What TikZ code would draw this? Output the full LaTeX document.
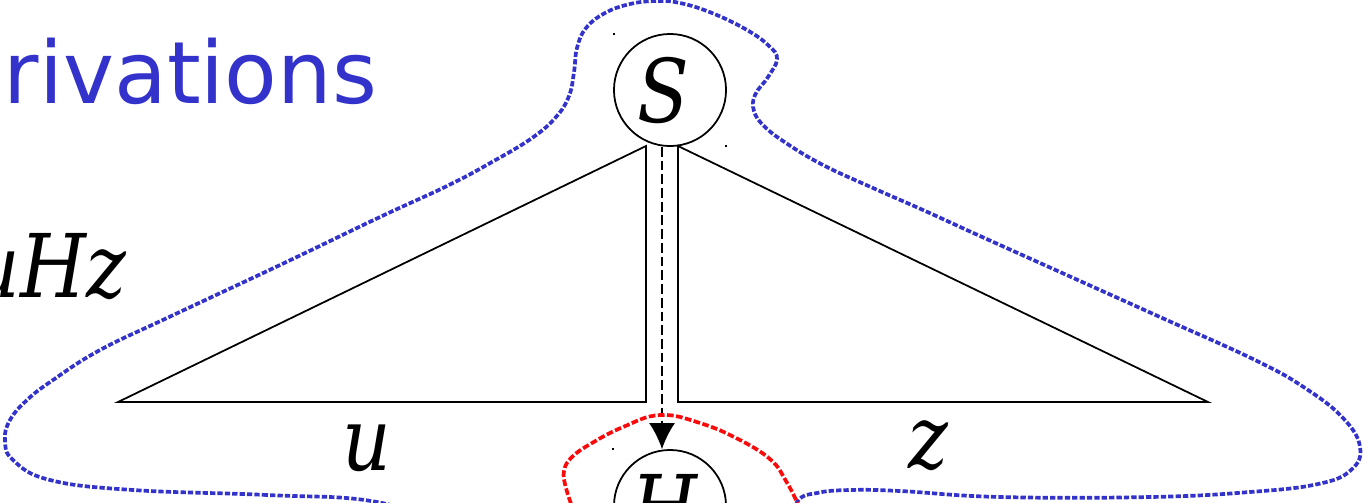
\documentclass[tikz,border=0pt]{standalone}
\usepackage{fontspec}
\setmainfont{DejaVu Serif}
\newfontfamily\titlefont{DejaVu Sans}
\newfontfamily\lblfont[FakeStretch=0.86]{DejaVu Serif}
\usetikzlibrary{arrows.meta}
\definecolor{loopblue}{RGB}{51,51,204}
\definecolor{loopred}{RGB}{250,10,10}
\tikzset{
  lbl/.style={font=\lblfont\fontsize{25}{30}\selectfont\itshape, inner sep=0pt},
  vertex/.style={circle, draw, line width=0.5pt, minimum size=1.12cm, inner sep=0pt,
                 font=\lblfont\fontsize{25}{30}\selectfont\itshape},
  blueloop/.style={loopblue, line width=1.05pt, dash pattern=on 1.5pt off 0.6pt},
  redloop/.style={loopred, line width=1.05pt, dash pattern=on 1.9pt off 0.7pt},
}
\begin{document}
\begin{tikzpicture}[x=0.01cm, y=-0.01cm, >={Latex[length=7.4pt,width=7.4pt]}, line width=0.5pt]
\useasboundingbox (0,0) rectangle (1364,502);
\coordinate (L1) at (646,146);
\coordinate (L2) at (118,402);
\coordinate (L3) at (646,402);
\coordinate (R1) at (678,146);
\coordinate (R2) at (678,402);
\coordinate (R3) at (1208,402);
\node[vertex] (S) at (670,90)  {S\kern4pt};
\node[vertex] (H) at (670,506) {H\kern3pt};
\draw (L1) -- (L3) -- (L2) -- cycle;
\draw (R1) -- (R2) -- (R3) -- cycle;
\draw[->, dash pattern=on 2.8pt off 1.1pt] ([xshift=-0.08cm]S.south) -- ([xshift=-0.08cm]H.north);
% the two loops
\draw[blueloop] plot[smooth cycle, tension=0.7] coordinates {
  (377,502) (267,495) (133,490) (50,480) (13,460) (5,440) (10,420) (27,400)
  (53,380) (100,350) (167,318) (280,265) (380,217) (447,186) (492,162)
  (532,138) (556,117) (569,96) (574,72) (577,48) (586,28) (605,13) (630,4)
  (656,1) (680,3) (712,13) (747,30) (769,46) (777,59) (768,77) (755,95)
  (754,111) (764,126) (786,143) (823,165) (873,188) (923,210) (980,236)
  (1060,272) (1160,317) (1255,360) (1305,388) (1343,418) (1360,447)
  (1351,470) (1318,484) (1250,492) (1150,497) (1000,497) (900,491)
  (850,490) (817,493) (797,502) (780,540) (600,560) (460,530)};
\draw[redloop] plot[smooth, tension=0.7] coordinates {
  (574,512) (566,488) (564,471) (572,457) (592,443) (623,427) (660,415)
  (700,423) (740,440) (771,460) (786,481) (797,502) (801,512)};
\node[lbl, anchor=base] (u) at (367,470) {u};
\node[lbl, anchor=base] (z) at (928,468) {z};
\node[lbl, anchor=base east] (uhz) at (127,297) {uHz};
\node[anchor=base west, inner sep=0pt, text=loopblue,
      font=\titlefont\fontsize{24.5}{29}\selectfont] (title) at (3,103) {rivations};
\fill (613,33) rectangle +(2,2);
\fill (725,145) rectangle +(2,2);
\fill (612,448) rectangle +(2,2);
\end{tikzpicture}
\end{document}
